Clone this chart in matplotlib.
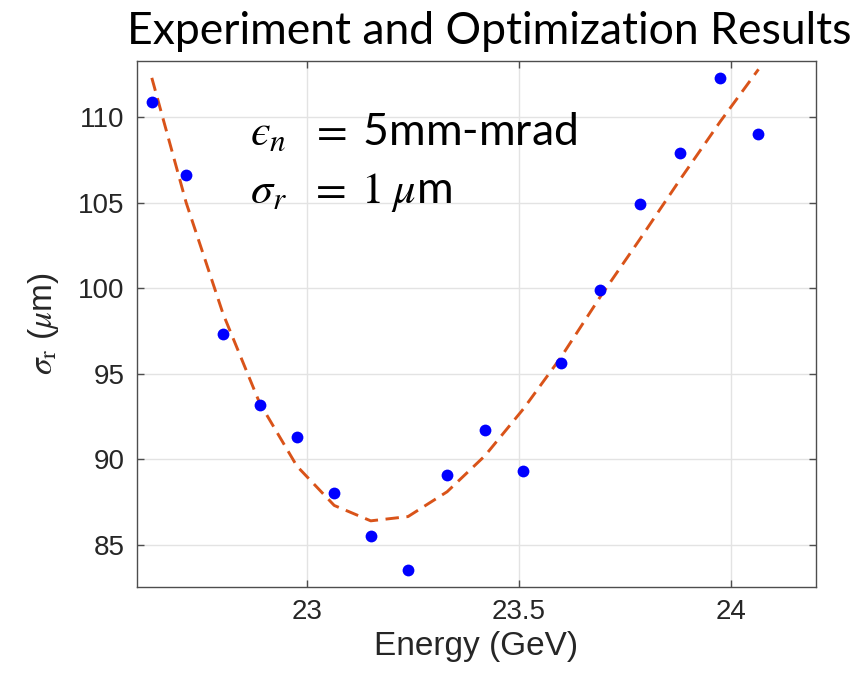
"""Beam size vs energy scan: measured points and optimized fit."""
import matplotlib
matplotlib.use("Agg")
import matplotlib.pyplot as plt

# measured beam size (um) vs energy (GeV)
energy = [22.635, 22.716, 22.803, 22.889, 22.977, 23.065, 23.151, 23.239, 23.331,
          23.420, 23.511, 23.599, 23.692, 23.785, 23.880, 23.975, 24.065]
sigma_meas = [110.9, 106.6, 97.3, 93.2, 91.3, 88.0, 85.5, 83.5, 89.1,
              91.7, 89.3, 95.65, 99.9, 104.9, 107.9, 112.3, 109.0]
# optimization result at the same energies
sigma_fit = [112.3, 105.0, 98.5, 93.3, 89.6, 87.3, 86.4, 86.65, 88.1,
             90.2, 92.95, 95.95, 99.5, 102.85, 106.35, 109.75, 112.8]

x_ticks = [23, 23.5, 24]
y_ticks = [85, 90, 95, 100, 105, 110]

plt.rcParams["font.family"] = ["Liberation Sans", "DejaVu Sans"]
plt.rcParams["mathtext.fontset"] = "stix"

fig = plt.figure(figsize=(8.56, 6.77), dpi=100)
ax = fig.add_axes([0.160, 0.1334, 0.793, 0.7761])

ax.plot(energy, sigma_fit, color="#D95319", lw=2.1, dashes=(4.6, 2.6), zorder=2)
ax.plot(energy, sigma_meas, "o", color="#0000FF", markersize=8.5, mec="none", zorder=3)

ax.set_xlim(22.6, 24.2)
ax.set_ylim(82.55, 113.27)
ax.set_xticks(x_ticks)
ax.set_xticklabels(["23", "23.5", "24"])
ax.set_yticks(y_ticks)
ax.grid(True, color="#e3e3e3", lw=1.0)
ax.set_axisbelow(True)
ax.tick_params(direction="in", length=5, width=1, top=True, right=True,
               labelsize=20, colors="#4d4d4d", labelcolor="#262626", pad=9)
for s in ax.spines.values():
    s.set_color("#4d4d4d")
    s.set_linewidth(1.0)

ax.set_xlabel("Energy (GeV)", fontsize=24, color="#262626", labelpad=4)
ax.set_ylabel(r"$\sigma_{\mathrm{r}}$ ($\mu$m)", fontsize=24, color="#262626", labelpad=12)

# annotation in the style of a slide equation
ax.text(0.167, 0.8407, "$\u03f5_n\\;\\;\\,=\\;$5mm-mrad", transform=ax.transAxes,
        fontsize=32, family=["Lato", "DejaVu Sans"], color="black", va="baseline")
ax.text(0.167, 0.730, r"$\sigma_r\;\;\,=\;1\;\mu$m", transform=ax.transAxes,
        fontsize=32, family=["Lato", "DejaVu Sans"], color="black", va="baseline")

fig.text(0.571, 0.953, "Experiment and Optimization Results", ha="center", va="center",
         fontsize=32, family=["Lato", "DejaVu Sans"], color="black")

fig.savefig("out.png", dpi=100)
